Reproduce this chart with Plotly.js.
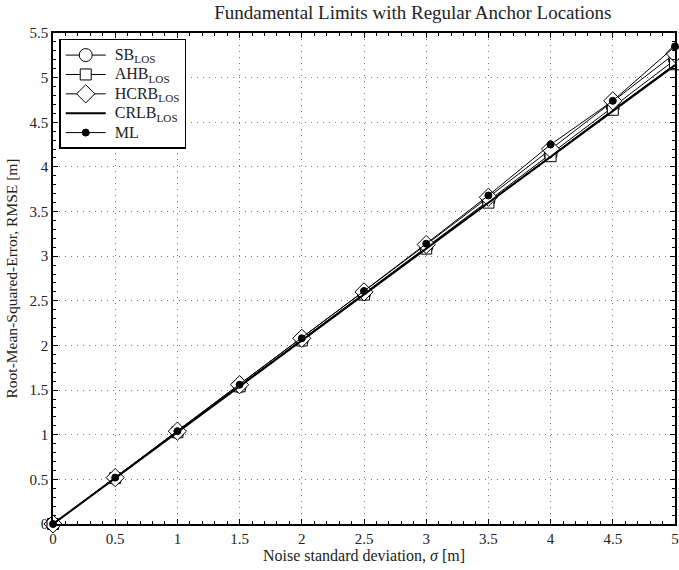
<!DOCTYPE html>
<html><head><meta charset="utf-8">
<script src="https://cdn.plot.ly/plotly-3.0.1.min.js"></script>
<style>body{margin:0;background:#fff}#c{width:679px;height:570px}</style>
</head><body><div id="c"></div>
<script>
var sigma = [0,0.5,1,1.5,2,2.5,3,3.5,4,4.5,5];
var sbLos   = [0,0.515,1.03,1.545,2.062,2.58,3.1,3.62,4.14,4.67,5.2];
var ahbLos  = [0,0.514,1.028,1.542,2.056,2.57,3.085,3.6,4.12,4.64,5.15];
var hcrbLos = [0,0.52,1.04,1.56,2.08,2.6,3.13,3.66,4.2,4.74,5.27];
var crlbLos = [0,0.514,1.028,1.542,2.056,2.57,3.084,3.598,4.112,4.626,5.14];
var ml      = [0,0.52,1.04,1.56,2.08,2.61,3.14,3.68,4.25,4.74,5.35];
var names = ['SB<sub>LOS</sub>','AHB<sub>LOS</sub>','HCRB<sub>LOS</sub>','CRLB<sub>LOS</sub>','ML'];
var font = 'Liberation Serif, Times New Roman, serif';
var txt = '#222';

function big(s) { return '<span style="font-size:16px">&nbsp;' + s + '</span>'; }
function tr(y, name, sym, size, fill, lw, mode) {
  return {x: sigma, y: y, name: big(name), type: 'scatter', mode: mode,
    cliponaxis: false,
    line: {color: '#000', width: lw},
    marker: {symbol: sym, size: size, color: fill, line: {color: '#000', width: 1}}};
}
var data = [
  tr(sbLos, names[0], 'circle', 13, '#fff', 1, 'lines+markers'),
  tr(ahbLos, names[1], 'square', 11, '#fff', 1, 'lines+markers'),
  tr(hcrbLos, names[2], 'diamond', 14, '#fff', 1, 'lines+markers'),
  tr(crlbLos, names[3], 'circle', 1, '#000', 2, 'lines'),
  tr(ml, names[4], 'circle', 7, '#000', 1, 'lines+markers')
];
var ax = {
  showline: true, linecolor: '#000', linewidth: 1.5, mirror: 'allticks',
  ticks: 'inside', ticklen: 5, tickcolor: '#000', tickwidth: 1,
  showgrid: true, gridcolor: '#777', griddash: '1px,5px', gridwidth: 1,
  zeroline: false, dtick: 0.5,
  tickfont: {family: font, size: 15, color: txt},
  minor: {ticks: 'inside', ticklen: 3, tickcolor: '#000', dtick: 0.1, showgrid: false}
};
var layout = {
  width: 679, height: 570,
  margin: {l: 53, r: 4, t: 33, b: 46},
  paper_bgcolor: '#fff', plot_bgcolor: '#fff',
  font: {family: font, color: txt},
  title: {text: 'Fundamental Limits with Regular Anchor Locations', font: {family: font, size: 19, color: txt},
    x: 0.608, xanchor: 'center', y: 0.99, yanchor: 'top'},
  xaxis: Object.assign({}, ax, {range: [0, 5],
    title: {text: 'Noise standard deviation, <i>σ</i> [m]', font: {family: font, size: 16, color: txt}, standoff: 2}}),
  yaxis: Object.assign({}, ax, {range: [0, 5.5],
    title: {text: 'Root-Mean-Squared-Error, RMSE [m]', font: {family: font, size: 15.5, color: txt}, standoff: 8}}),
  showlegend: true,
  legend: {x: 0.01, y: 0.988, xanchor: 'left', yanchor: 'top', bgcolor: '#fff',
    bordercolor: '#000', borderwidth: 1.5, font: {family: font, size: 12.6, color: txt},
    tracegroupgap: 0, itemwidth: 40}
};
Plotly.newPlot('c', data, layout, {displayModeBar: false});
</script></body></html>
